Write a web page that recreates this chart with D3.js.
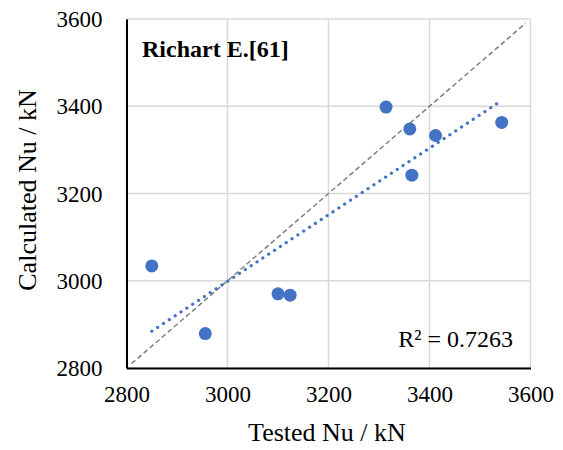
<!DOCTYPE html>
<html>
<head>
<meta charset="utf-8">
<script src="https://cdn.jsdelivr.net/npm/d3@7/dist/d3.min.js"></script>
<style>
  html, body { margin: 0; padding: 0; background: #fff; }
  svg text { font-family: "Liberation Serif", "Times New Roman", serif; fill: #000; }
</style>
</head>
<body>
<svg id="chart" width="563" height="450"></svg>
<script>
// Data
const testedNu     = [2850, 2956, 3100, 3124, 3314, 3361, 3412, 3365, 3543];
const calculatedNu = [3034, 2879, 2970, 2967, 3398, 3348, 3333, 3242, 3363];
const xTicks = [2800, 3000, 3200, 3400, 3600];
const yTicks = [2800, 3000, 3200, 3400, 3600];
const equalityLine = [2810, 3590];
const chartLabel = "Richart E.[61]";
const r2Label = "R² = 0.7263";
const xTitle = "Tested Nu / kN";
const yTitle = "Calculated Nu / kN";

const FONT = '"Liberation Serif", "Times New Roman", serif';
const svg = d3.select("#chart");
const L = 126.5, R = 530.5, T = 19, B = 368;
const x = d3.scaleLinear().domain([2800, 3600]).range([L, R]);
const y = d3.scaleLinear().domain([2800, 3600]).range([B, T]);

// Grid
const grid = svg.append("g");
grid.selectAll("line.v").data(xTicks).join("line")
  .attr("x1", d => x(d)).attr("x2", d => x(d))
  .attr("y1", T).attr("y2", B)
  .attr("stroke", "#d9d9d9").attr("stroke-width", 1.5);
grid.selectAll("line.h").data(yTicks).join("line")
  .attr("x1", L).attr("x2", R)
  .attr("y1", d => y(d)).attr("y2", d => y(d))
  .attr("stroke", "#d9d9d9").attr("stroke-width", 1.5);

// Axes
const fmt = d3.format("d");
const xAxis = d3.axisBottom(x).tickValues(xTicks).tickFormat(fmt).tickSize(0).tickPadding(0);
const gx = svg.append("g").attr("transform", `translate(0,${B})`).call(xAxis)
  .attr("font-family", FONT).attr("font-size", 23);
gx.select(".domain").attr("stroke", "#000").attr("stroke-width", 2);
gx.selectAll(".tick text").attr("dy", null).attr("y", 34).attr("fill", "#000");

const yAxis = d3.axisLeft(y).tickValues(yTicks).tickFormat(fmt).tickSize(0).tickPadding(0);
const gy = svg.append("g").attr("transform", `translate(${L},0)`).call(yAxis)
  .attr("font-family", FONT).attr("font-size", 23);
gy.select(".domain").attr("stroke", "#000").attr("stroke-width", 2);
gy.selectAll(".tick text").attr("x", -24).attr("dy", "0.33em").attr("fill", "#000");

// Equality line (dashed)
svg.append("line")
  .attr("x1", x(equalityLine[0])).attr("y1", y(equalityLine[0]))
  .attr("x2", x(equalityLine[1])).attr("y2", y(equalityLine[1]))
  .attr("stroke", "#7f7f7f").attr("stroke-width", 1.5)
  .attr("stroke-dasharray", "5 3");

// Linear trendline from data
const pts = testedNu.map((v, i) => [v, calculatedNu[i]]);
const mx = d3.mean(testedNu), my = d3.mean(calculatedNu);
const sxy = d3.sum(pts, p => (p[0] - mx) * (p[1] - my));
const sxx = d3.sum(pts, p => (p[0] - mx) ** 2);
const slope = sxy / sxx, icpt = my - slope * mx;
const [xmin, xmax] = d3.extent(testedNu);
svg.append("line")
  .attr("x1", x(xmin)).attr("y1", y(icpt + slope * xmin))
  .attr("x2", x(xmax)).attr("y2", y(icpt + slope * xmax))
  .attr("stroke", "#4472c4").attr("stroke-width", 3.2)
  .attr("stroke-linecap", "round").attr("stroke-dasharray", "0.1 6.9");

// Points
svg.selectAll("circle.pt").data(pts).join("circle")
  .attr("cx", d => x(d[0])).attr("cy", d => y(d[1])).attr("r", 6.5)
  .attr("fill", "#4472c4");

// Labels
svg.append("text").attr("x", 142).attr("y", 57)
  .attr("font-family", FONT).attr("font-size", 24).attr("font-weight", "bold")
  .text(chartLabel);
svg.append("text").attr("x", 513).attr("y", 347).attr("font-size", 24)
  .attr("text-anchor", "end").text(r2Label);
svg.append("text").attr("x", 327).attr("y", 441).attr("font-size", 26)
  .attr("text-anchor", "middle").text(xTitle);
svg.append("text").attr("transform", "translate(36,190) rotate(-90)")
  .attr("font-size", 26).attr("text-anchor", "middle").text(yTitle);
</script>
</body>
</html>
